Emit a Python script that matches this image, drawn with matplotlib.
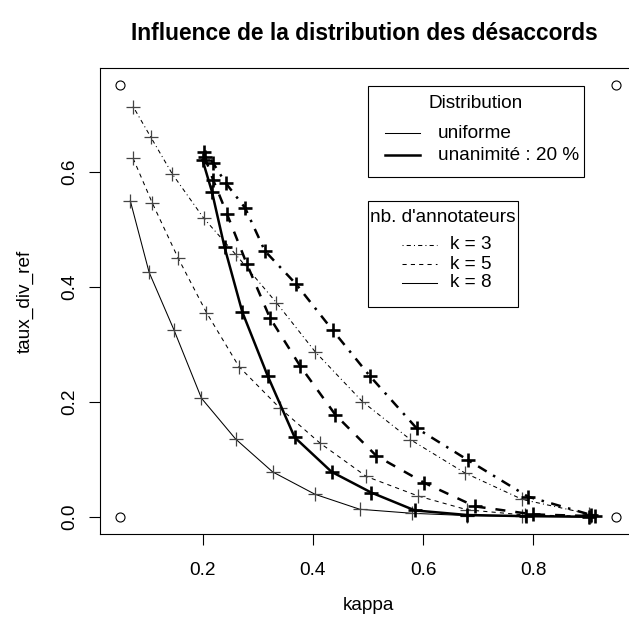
import matplotlib
matplotlib.use("Agg")
import matplotlib.pyplot as plt
from matplotlib.lines import Line2D
from matplotlib.patches import Rectangle

plt.rcParams['font.family'] = ['Liberation Sans', 'DejaVu Sans']

# kappa / taux_div_ref, one pair of lists per curve
# uniform distribution (thin lines)
uni_k3_x = [0.074, 0.106, 0.145, 0.202, 0.260, 0.334, 0.404, 0.490, 0.577, 0.676, 0.780, 0.900]
uni_k3_y = [0.713, 0.660, 0.596, 0.519, 0.456, 0.372, 0.287, 0.200, 0.134, 0.076, 0.030, 0.005]
uni_k5_x = [0.074, 0.109, 0.156, 0.207, 0.266, 0.340, 0.413, 0.497, 0.591, 0.680, 0.785, 0.905]
uni_k5_y = [0.623, 0.545, 0.449, 0.355, 0.261, 0.189, 0.128, 0.070, 0.036, 0.012, 0.003, 0.001]
uni_k8_x = [0.069, 0.103, 0.148, 0.198, 0.260, 0.327, 0.404, 0.485, 0.580, 0.680, 0.780, 0.900]
uni_k8_y = [0.549, 0.425, 0.325, 0.206, 0.135, 0.078, 0.039, 0.013, 0.006, 0.002, 0.001, 0.000]

# unanimity 20 % (thick lines)
una_k3_x = [0.203, 0.219, 0.242, 0.277, 0.313, 0.370, 0.436, 0.503, 0.588, 0.682, 0.790, 0.905]
una_k3_y = [0.634, 0.615, 0.580, 0.537, 0.462, 0.404, 0.324, 0.245, 0.154, 0.098, 0.035, 0.003]
una_k5_x = [0.204, 0.219, 0.244, 0.280, 0.322, 0.377, 0.441, 0.515, 0.602, 0.694, 0.800, 0.912]
una_k5_y = [0.625, 0.586, 0.527, 0.440, 0.346, 0.262, 0.177, 0.106, 0.059, 0.018, 0.004, 0.001]
una_k8_x = [0.200, 0.217, 0.240, 0.272, 0.318, 0.367, 0.434, 0.506, 0.585, 0.680, 0.786, 0.900]
una_k8_y = [0.620, 0.565, 0.468, 0.356, 0.245, 0.138, 0.078, 0.042, 0.011, 0.003, 0.001, 0.000]

# corner points of the empty plot frame
frame_x = [0.05, 0.05, 0.95, 0.95]
frame_y = [0.0, 0.75, 0.0, 0.75]

dist_labels = ['uniforme', 'unanimité : 20 %']
k_labels = ['k = 3', 'k = 5', 'k = 8']

W, H = 629, 624
FS = 13.7
dotdash = (0, (1, 3, 4, 3))
dashed = (0, (4, 4))

fig = plt.figure(figsize=(W / 100, H / 100), dpi=100)
ax = fig.add_axes([100 / W, 90 / H, 536 / W, 466 / H])

ax.plot(frame_x, frame_y, 'o', mfc='none', mec='black', ms=6.5, mew=0.8, ls='none')

thin = dict(color='black', lw=0.75, marker='+', ms=9.5, mew=0.9, mec='#444444')
ax.plot(uni_k3_x, uni_k3_y, ls=dotdash, **thin)
ax.plot(uni_k5_x, uni_k5_y, ls=dashed, **thin)
ax.plot(uni_k8_x, uni_k8_y, ls='-', **thin)

thick = dict(color='black', lw=1.8, marker='+', ms=10.5, mew=1.9, mec='black')
ax.plot(una_k3_x, una_k3_y, ls=dotdash, **thick)
ax.plot(una_k5_x, una_k5_y, ls=dashed, **thick)
ax.plot(una_k8_x, una_k8_y, ls='-', **thick)

ax.set_xlim(0.014, 0.986)
ax.set_ylim(-0.03, 0.78)
ax.set_xticks([0.2, 0.4, 0.6, 0.8])
ax.set_yticks([0.0, 0.2, 0.4, 0.6])
ax.set_xticklabels(['0.2', '0.4', '0.6', '0.8'])
ax.set_yticklabels(['0.0', '0.2', '0.4', '0.6'], rotation=90, va='center')
ax.tick_params(direction='out', length=8, width=0.8, labelsize=FS)
ax.tick_params(axis='x', pad=12)
ax.tick_params(axis='y', pad=7.5)
for s in ax.spines.values():
    s.set_linewidth(0.8)

ax.set_xlabel('kappa', fontsize=FS, labelpad=13)
ax.set_ylabel('taux_div_ref', fontsize=FS, labelpad=20)
fig.text(364 / W, 1 - 33 / H, 'Influence de la distribution des désaccords',
         ha='center', va='center', fontsize=16.4, fontweight='bold')


# R-style legend boxes, placed in figure pixels (y measured from the top)
def fx(x):
    return x / W


def fy(y):
    return 1 - y / H


def legend_box(x0, y0, x1, y1, title, title_x, title_ha, title_y,
               rows, line_x0, line_x1, text_x):
    fig.add_artist(Rectangle((fx(x0), fy(y1)), fx(x1) - fx(x0), fy(y0) - fy(y1),
                             transform=fig.transFigure, facecolor='white',
                             edgecolor='black', lw=0.8))
    fig.text(fx(title_x), fy(title_y), title, ha=title_ha, va='center', fontsize=FS)
    for label, y, style in rows:
        fig.add_artist(Line2D([fx(line_x0), fx(line_x1)], [fy(y), fy(y)],
                              transform=fig.transFigure, color='black', **style))
        fig.text(fx(text_x), fy(y), label, ha='left', va='center', fontsize=FS)


legend_box(368, 86, 584, 177, 'Distribution', 476, 'center', 103,
           [(dist_labels[0], 133, dict(lw=0.75)),
            (dist_labels[1], 155, dict(lw=1.8))],
           385, 420, 438)

legend_box(368, 201, 518, 307, "nb. d'annotateurs", 369.5, 'left', 218,
           [(k_labels[0], 245, dict(lw=0.75, ls=dotdash)),
            (k_labels[1], 264, dict(lw=0.75, ls=dashed)),
            (k_labels[2], 283, dict(lw=0.75))],
           402, 437, 450)

fig.savefig('out.png', dpi=100)
